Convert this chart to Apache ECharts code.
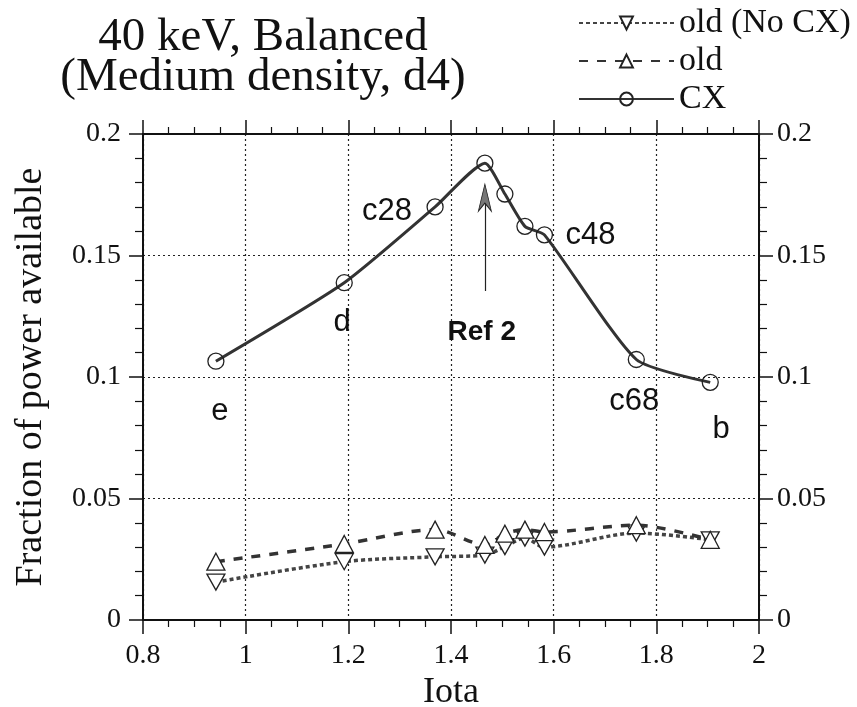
<!DOCTYPE html>
<html>
<head>
<meta charset="utf-8">
<script src="https://cdn.jsdelivr.net/npm/echarts@6/dist/echarts.min.js"></script>
<style>
    html, body { margin: 0; padding: 0; background: #fff; }
    #chart { width: 857px; height: 707px; }
</style>
</head>
<body>
<div id="chart"></div>
<script>
// iota of each configuration (e, d, c28, Ref 2, ..., c48, c68, b)
const iota = [0.942, 1.192, 1.369, 1.466, 1.505, 1.544, 1.582, 1.761, 1.905];
const cxValues = [0.1065, 0.1388, 0.170, 0.188, 0.1753, 0.162, 0.1585, 0.1072, 0.0978];
const oldValues = [0.024, 0.0313, 0.0372, 0.0309, 0.0355, 0.0372, 0.0362, 0.039, 0.033];
const noCxValues = [0.0156, 0.024, 0.026, 0.0267, 0.0302, 0.0337, 0.030, 0.0358, 0.033];
const pointNames = ['e', 'd', 'c28', '', '', '', 'c48', 'c68', 'b'];
const seriesNames = ['old (No CX)', 'old', 'CX'];
// Ref 2 arrow: iota, bottom and tip of arrow
const refIota = 1.466;
const refArrow = [0.1354, 0.1794];
const refText = 'Ref 2';

const serif = 'Liberation Serif';
const sans = 'Liberation Sans';
const ink = '#111';
const labelOffsets = [[4, 50], [-2, 40], [-48, 5], null, null, null, [46, 1], [-2, 42], [11, 47]];

function fmt(v) {
    return String(+v.toFixed(2));
}

function axisBase(extra) {
    return Object.assign({
        type: 'value',
        axisLine: {onZero: false, lineStyle: {color: ink, width: 2}},
        axisTick: {length: 14, lineStyle: {color: ink, width: 1.5}},
        minorTick: {show: true, length: 7, lineStyle: {color: ink, width: 1.2}},
        axisLabel: {fontFamily: serif, fontSize: 28, color: ink, formatter: fmt},
        splitLine: {show: false},
        minorSplitLine: {show: false}
    }, extra);
}

const gridLine = {show: true, lineStyle: {type: [2, 3], color: '#222', width: 1.2}};

let chart = echarts.init(document.getElementById('chart'));

const option = {
    animation: false,
    backgroundColor: '#fff',
    title: {
        text: '40 keV, Balanced\n(Medium density, d4)',
        left: 258,
        top: 13,
        textAlign: 'center',
        textStyle: {fontFamily: serif, fontSize: 47, fontWeight: 'normal', color: ink, lineHeight: 40}
    },
    legend: {
        orient: 'vertical',
        left: 573,
        top: 1,
        itemWidth: 95,
        itemHeight: 16,
        itemGap: 4,
        textStyle: {fontFamily: serif, fontSize: 34, color: ink},
        data: seriesNames
    },
    grid: {left: 143, right: 98, top: 134, bottom: 87, outerBoundsMode: 'none'},
    xAxis: [
        axisBase({
            min: 0.8, max: 2, interval: 0.2, position: 'bottom',
            minorTick: {show: true, splitNumber: 4, length: 7, lineStyle: {color: ink, width: 1.2}},
            axisLabel: {fontFamily: serif, fontSize: 28, color: ink, margin: 22, formatter: fmt},
            splitLine: gridLine,
            name: 'Iota', nameLocation: 'middle', nameGap: 52,
            nameTextStyle: {fontFamily: serif, fontSize: 36, color: ink}
        }),
        axisBase({
            min: 0.8, max: 2, interval: 0.2, position: 'top',
            minorTick: {show: true, splitNumber: 4, length: 7, lineStyle: {color: ink, width: 1.2}},
            axisLabel: {show: false}
        })
    ],
    yAxis: [
        axisBase({
            min: 0, max: 0.2, interval: 0.05, position: 'left',
            minorTick: {show: true, splitNumber: 5, length: 8, lineStyle: {color: ink, width: 1.2}},
            axisLabel: {fontFamily: serif, fontSize: 28, color: ink, margin: 22, formatter: fmt},
            splitLine: gridLine,
            name: 'Fraction of power available', nameLocation: 'middle', nameGap: 93,
            nameTextStyle: {fontFamily: serif, fontSize: 38, color: ink}
        }),
        axisBase({
            min: 0, max: 0.2, interval: 0.05, position: 'right',
            minorTick: {show: true, splitNumber: 5, length: 8, lineStyle: {color: ink, width: 1.2}},
            axisLabel: {fontFamily: serif, fontSize: 28, color: ink, margin: 18, formatter: fmt}
        })
    ],
    series: [
        {
            name: seriesNames[0],
            type: 'line',
            smooth: 0.3,
            data: iota.map((x, i) => [x, noCxValues[i]]),
            symbol: 'path://M0,0L10,0L5,9Z',
            symbolSize: [18, 16],
            itemStyle: {color: '#fff', borderColor: '#222', borderWidth: 1.3},
            lineStyle: {color: '#444', width: 3.5, type: [4, 3]},
            z: 3
        },
        {
            name: seriesNames[1],
            type: 'line',
            smooth: 0.3,
            data: iota.map((x, i) => [x, oldValues[i]]),
            symbol: 'triangle',
            symbolSize: [18, 17],
            itemStyle: {color: '#fff', borderColor: '#222', borderWidth: 1.3},
            lineStyle: {color: '#333', width: 3.5, type: [9, 9]},
            z: 4
        },
        {
            name: seriesNames[2],
            type: 'line',
            smooth: 0.2,
            data: iota.map((x, i) => ({
                value: [x, cxValues[i]],
                label: pointNames[i]
                    ? {show: true, formatter: pointNames[i], offset: labelOffsets[i]}
                    : {show: false}
            })),
            symbol: 'circle',
            symbolSize: 16,
            itemStyle: {color: 'rgba(255,255,255,0)', borderColor: '#222', borderWidth: 1.3},
            lineStyle: {color: '#333', width: 3},
            label: {position: 'inside', fontFamily: sans, fontSize: 31, color: ink},
            markLine: {
                silent: true,
                symbol: ['none', 'none'],
                lineStyle: {color: '#222', width: 1.2, type: 'solid'},
                label: {show: false},
                data: [[{coord: [refIota, refArrow[0]]}, {coord: [refIota, refArrow[1] - 0.004]}]]
            },
            markPoint: {
                silent: true,
                data: [
                    {
                        coord: [refIota, refArrow[1]],
                        symbol: 'path://M5,0L10,24L5,17L0,24Z',
                        symbolSize: [13, 27],
                        symbolOffset: [0, '50%'],
                        itemStyle: {color: '#777', borderColor: '#222', borderWidth: 1},
                        label: {show: false}
                    },
                    {
                        coord: [1.46, 0.1185],
                        symbol: 'circle',
                        symbolSize: 0,
                        label: {show: true, position: 'inside', formatter: refText, fontFamily: sans, fontWeight: 'bold', fontSize: 28, color: ink}
                    }
                ]
            },
            z: 5
        }
    ]
};

chart.setOption(option);

window.addEventListener('resize', function () {
    chart.resize();
});
</script>
</body>
</html>
